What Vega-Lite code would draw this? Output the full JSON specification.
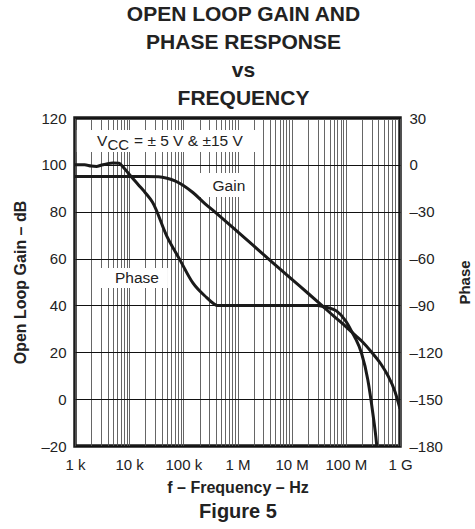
{
  "$schema": "https://vega.github.io/schema/vega-lite/v6.json",
  "width": 325,
  "height": 328,
  "autosize": {"type": "none"},
  "padding": {"left": 75, "top": 118, "right": 75, "bottom": 83},
  "config": {
    "view": {"stroke": "#1a1a1a", "strokeWidth": 3.5},
    "font": "Liberation Sans",
    "axis": {"labelFont": "Liberation Sans", "titleFont": "Liberation Sans", "labelColor": "#222", "titleColor": "#222", "domain": false, "ticks": false, "labelFontSize": 15, "titleFontSize": 16, "titleFontWeight": "bold"}
  },
  "title": {
    "text": ["OPEN LOOP GAIN AND", "PHASE RESPONSE", "vs", "FREQUENCY"],
    "fontSize": 21, "fontWeight": "bold", "lineHeight": 28, "anchor": "middle", "offset": 2, "dx": 6, "color": "#222", "font": "Liberation Sans"
  },
  "datasets": {
    "gain": [
      {"f": 1000, "db": 95}, {"f": 5000, "db": 95}, {"f": 20000, "db": 95}, {"f": 35000, "db": 94.9},
      {"f": 50000, "db": 94.3}, {"f": 70000, "db": 93.2}, {"f": 100000, "db": 91.2}, {"f": 150000, "db": 88.2},
      {"f": 250000, "db": 83.5}, {"f": 400000, "db": 79.5}, {"f": 1000000, "db": 71.5}, {"f": 3000000, "db": 61.8},
      {"f": 10000000, "db": 51.2}, {"f": 20000000, "db": 45.2}, {"f": 36000000, "db": 40}, {"f": 60000000, "db": 35.4},
      {"f": 100000000, "db": 31}, {"f": 150000000, "db": 27.2}, {"f": 200000000, "db": 24.6}, {"f": 300000000, "db": 20},
      {"f": 450000000, "db": 14.8}, {"f": 600000000, "db": 10}, {"f": 800000000, "db": 3.5}, {"f": 1000000000, "db": -4}
    ],
    "phase": [
      {"f": 1000, "deg": 0}, {"f": 1500, "deg": 0}, {"f": 2000, "deg": -0.8}, {"f": 2500, "deg": -1},
      {"f": 3000, "deg": -0.3}, {"f": 4000, "deg": 0.8}, {"f": 5000, "deg": 1.2}, {"f": 6500, "deg": 1},
      {"f": 8000, "deg": -2}, {"f": 10000, "deg": -6}, {"f": 15000, "deg": -13}, {"f": 20000, "deg": -18},
      {"f": 27000, "deg": -24}, {"f": 50000, "deg": -46}, {"f": 87000, "deg": -61}, {"f": 150000, "deg": -75.6},
      {"f": 270000, "deg": -85}, {"f": 350000, "deg": -88.5}, {"f": 420000, "deg": -90}, {"f": 30000000, "deg": -90},
      {"f": 45000000, "deg": -91.3}, {"f": 67000000, "deg": -93.5}, {"f": 100000000, "deg": -100}, {"f": 130000000, "deg": -107},
      {"f": 150000000, "deg": -111}, {"f": 195000000, "deg": -120.6}, {"f": 255000000, "deg": -137.7}, {"f": 315000000, "deg": -159},
      {"f": 368000000, "deg": -178}, {"f": 375000000, "deg": -181}
    ],
    "boxes": [
      {"f": 1080, "f2": 2800000, "db": 105.5, "db2": 114.9},
      {"f": 186000, "f2": 1850000, "db": 86.3, "db2": 96.5},
      {"f": 2150, "f2": 52000, "db": 47.4, "db2": 56}
    ],
    "notes": [
      {"f": 694000, "db": 91, "label": "Gain"},
      {"f": 13900, "db": 51.7, "label": "Phase"}
    ],
    "vcc": [
      {"f": 2550, "db": 110.2}
    ]
  },
  "layer": [
    {
      "encoding": {
        "x": {
          "field": "f", "type": "quantitative",
          "scale": {"type": "log", "domain": [1000, 1000000000]},
          "axis": {
            "orient": "bottom",
            "title": "f – Frequency – Hz",
            "titlePadding": 7,
            "labelPadding": 11,
            "grid": true, "gridColor": "#555", "gridWidth": 0.9,
            "labelOverlap": false, "labelFlush": false,
            "values": [1000,2000,3000,4000,5000,6000,7000,8000,9000,10000,20000,30000,40000,50000,60000,70000,80000,90000,100000,200000,300000,400000,500000,600000,700000,800000,900000,1000000,2000000,3000000,4000000,5000000,6000000,7000000,8000000,9000000,10000000,20000000,30000000,40000000,50000000,60000000,70000000,80000000,90000000,100000000,200000000,300000000,400000000,500000000,600000000,700000000,800000000,900000000,1000000000],
            "labelExpr": "datum.value == 1000 ? '1 k' : datum.value == 10000 ? '10 k' : datum.value == 100000 ? '100 k' : datum.value == 1000000 ? '1 M' : datum.value == 10000000 ? '10 M' : datum.value == 100000000 ? '100 M' : datum.value == 1000000000 ? '1 G' : ''"
          }
        },
        "y": {
          "field": "db", "type": "quantitative",
          "scale": {"domain": [-20, 120]},
          "axis": {
            "orient": "left",
            "title": "Open Loop Gain – dB",
            "titlePadding": 12,
            "labelPadding": 9,
            "values": [-20, 0, 20, 40, 60, 80, 100, 120],
            "grid": true, "gridColor": "#111", "gridWidth": 1.2,
            "labelExpr": "datum.value < 0 ? '–' + abs(datum.value) : datum.label"
          }
        }
      },
      "layer": [
        {
          "data": {"name": "boxes"},
          "mark": {"type": "rect", "fill": "white", "stroke": null},
          "encoding": {
            "x2": {"field": "f2"},
            "y2": {"field": "db2"}
          }
        },
        {
          "data": {"name": "gain"},
          "mark": {"type": "line", "color": "#1a1a1a", "strokeWidth": 3, "clip": true, "interpolate": "monotone"},
          "encoding": {}
        },
        {
          "data": {"name": "notes"},
          "mark": {"type": "text", "fontSize": 15.5, "color": "#222", "align": "center", "baseline": "middle"},
          "encoding": {
            "text": {"field": "label"}
          }
        },
        {
          "data": {"name": "vcc"},
          "mark": {"type": "text", "fontSize": 15.5, "color": "#222", "align": "left", "baseline": "middle", "text": "V"},
          "encoding": {}
        },
        {
          "data": {"name": "vcc"},
          "mark": {"type": "text", "fontSize": 15, "color": "#222", "align": "left", "baseline": "middle", "text": "CC", "dx": 10.5, "dy": 4},
          "encoding": {}
        },
        {
          "data": {"name": "vcc"},
          "mark": {"type": "text", "fontSize": 15.5, "color": "#222", "align": "left", "baseline": "middle", "text": "= ± 5 V & ±15 V", "dx": 37},
          "encoding": {}
        }
      ]
    },
    {
      "data": {"name": "phase"},
      "mark": {"type": "line", "color": "#1a1a1a", "strokeWidth": 3, "clip": true, "interpolate": "monotone"},
      "encoding": {
        "x": {
          "field": "f", "type": "quantitative",
          "scale": {"type": "log", "domain": [1000, 1000000000]},
          "axis": {"orient": "bottom", "title": "Figure 5", "titleFontSize": 20, "titlePadding": 55, "labels": false, "grid": false}
        },
        "y": {
          "field": "deg", "type": "quantitative",
          "scale": {"domain": [-180, 30]},
          "axis": {
            "orient": "right",
            "title": "Phase",
            "titleFontSize": 15,
            "titleAngle": 270,
            "titlePadding": 30,
            "labelPadding": 9,
            "values": [-180, -150, -120, -90, -60, -30, 0, 30],
            "grid": false,
            "labelExpr": "datum.value < 0 ? '–' + abs(datum.value) : datum.label"
          }
        }
      }
    }
  ],
  "resolve": {"scale": {"y": "independent"}, "axis": {"x": "independent"}}
}
